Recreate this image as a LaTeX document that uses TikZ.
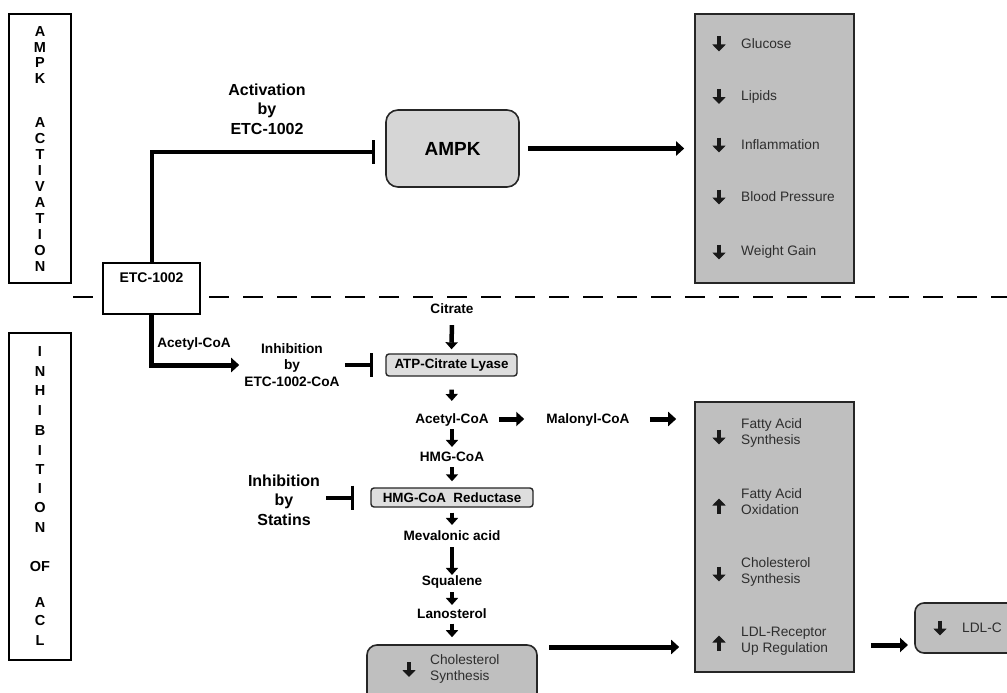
\documentclass[tikz,border=0pt]{standalone}
\usepackage{fontspec}
\setmainfont{Liberation Sans}
\usetikzlibrary{arrows.meta,calc}
\definecolor{boxgray}{HTML}{BFBFBF}
\definecolor{ampkgray}{HTML}{D6D6D6}
\definecolor{enzgray}{HTML}{DEDEDE}
\definecolor{txtgray}{HTML}{2E2E2E}
\begin{document}
\begin{tikzpicture}[x=1pt,y=-1pt,
  lbl/.style={font=\fontsize{13.6}{15}\selectfont\bfseries, inner sep=0pt, text height=9.7pt, text depth=0pt},
  biglbl/.style={font=\fontsize{16}{19.5}\selectfont\bfseries, align=center, inner sep=0pt},
  midlbl/.style={font=\fontsize{13.7}{16.5}\selectfont\bfseries, align=center, inner sep=0pt},
  vlet/.style={font=\fontsize{14.5}{15}\selectfont\bfseries, inner sep=0pt},
  item/.style={font=\fontsize{13.7}{16}\selectfont, text=txtgray, align=left, inner sep=0pt, anchor=west},
  sidebox/.style={draw=black, line width=2pt, fill=white, inner sep=0pt},
  bigbox/.style={draw=black!85, line width=1.6pt, fill=boxgray, inner sep=0pt},
  enzbox/.style={draw=black!85, line width=1.4pt, fill=enzgray, rounded corners=3pt, inner sep=0pt,
     font=\fontsize{13.4}{15}\selectfont\bfseries},
  bigarr/.style={line width=5pt, -{Triangle[width=14pt,length=8pt]}},
  patharr/.style={line width=4.5pt, -{Triangle[width=12pt,length=7pt]}},
  inhib/.style={line width=4pt, -{Bar[width=24pt,line width=3.5pt]}},
  iconarr/.style={line width=4.8pt, -{Triangle[width=13pt,length=7pt]}, black!90},
  dashln/.style={line width=1.6pt, dash pattern=on 20pt off 14pt}
]
\useasboundingbox (0,0) rectangle (1007,693);
\clip (0,0) rectangle (1007,693);
\fill[white] (0,0) rectangle (1007,693);

% ---- side boxes
\node[sidebox, minimum width=62, minimum height=269] (topside) at (40,148.5) {};
\foreach \l/\yy [count=\i] in {A/32,M/47.5,P/63,K/79,A/123,C/139,T/155,I/171,V/187,A/203,T/219,I/235,O/251,N/267}
  \node[vlet] (va\i) at (40,\yy) {\l};
\node[sidebox, minimum width=62, minimum height=327] (botside) at (40,496.5) {};
\foreach \l/\yy [count=\i] in {I/352,N/371.5,H/391,I/411,B/431,I/451,T/470,I/489,O/508,N/528,OF/567,A/603,C/621,L/641}
  \node[vlet] (vb\i) at (40,\yy) {\l};

% ---- dashed divider
\coordinate (dl) at (73,297);
\coordinate (dr) at (1010,297);
\draw[dashln] (dl) -- (dr);

% ---- ETC-1002 box
\node[sidebox, line width=1.6pt, minimum width=97, minimum height=51] (etc) at (151.5,288.5) {};
\node[lbl, font=\fontsize{14}{15}\selectfont\bfseries] (etct) at (151.5,277.5) {ETC-1002};

% ---- AMPK
\node[draw=black!85, line width=1.6pt, fill=ampkgray, rounded corners=12pt, minimum width=133, minimum height=77,
      font=\fontsize{19}{22}\selectfont\bfseries] (ampk) at (452.5,148.5) {AMPK};
\node[biglbl] (act) at (267,109) {Activation\\by\\ETC-1002};
\coordinate (corner1) at (151.5,152);
\draw[inhib, shorten >=10pt] (etc.north) -- (corner1) -- (corner1 -| ampk.west);

% ---- top result box
\node[bigbox, minimum width=159, minimum height=269] (topbox) at (774.5,148.5) {};
\draw[bigarr, shorten <=8pt, shorten >=10pt] (ampk.east) -- (ampk.east -| topbox.west);
\foreach \t/\yy [count=\i] in {Glucose/44,Lipids/96.5,Inflammation/145,Blood Pressure/197,Weight Gain/252}{
  \node[item] (ti\i) at (741,\yy) {\t};
  \draw[iconarr] (719,\yy-7.5) -- (719,\yy+7.5);
}

% ---- lower branch
\node[midlbl] (inh1) at (292,365) {Inhibition\\by\\ETC-1002-CoA};
\node[lbl] (acl) at (194,343) {Acetyl-CoA};
\draw[bigarr, shorten >=5pt] (etc.south) |- (inh1.west);

\node[lbl] (citrate) at (452,309) {Citrate};
\node[enzbox, minimum width=131, minimum height=22] (atp) at (451.5,365) {ATP-Citrate Lyase};
\draw[inhib, shorten <=5pt, shorten >=12pt] (inh1.east |- atp.west) -- (atp.west);

\node[lbl] (acetyl) at (452,419) {Acetyl-CoA};
\node[lbl] (malonyl) at (588,419) {Malonyl-CoA};
\node[lbl] (hmg) at (452,457) {HMG-CoA};
\node[enzbox, minimum width=162, minimum height=19] (red) at (452,497.5) {HMG-CoA\ \ Reductase};
\node[biglbl] (stat) at (284,500) {Inhibition\\by\\Statins};
\draw[inhib, shorten <=6pt, shorten >=16pt] (stat.east |- red.west) -- (red.west);
\node[lbl] (mev) at (452,536) {Mevalonic acid};
\node[lbl] (squ) at (452,581) {Squalene};
\node[lbl] (lano) at (452,614) {Lanosterol};

\node[draw=black!85, line width=1.6pt, fill=boxgray, rounded corners=10pt, minimum width=170, minimum height=70] (chol) at (452,680) {};
\node[item] (cholt) at (430,669) {Cholesterol\\Synthesis};
\draw[iconarr] (409,662) -- (409,677);

\draw[patharr, shorten <=11pt, shorten >=4pt] (citrate.south) -- (atp.north);
\draw[patharr, shorten <=13pt, shorten >=13pt] (atp.south) -- (acetyl.north);
\draw[patharr, shorten <=5pt, shorten >=5pt] (acetyl.south) -- (hmg.north);
\draw[patharr, shorten <=5pt, shorten >=6pt] (hmg.south) -- (red.north);
\draw[patharr, shorten <=5pt, shorten >=6pt] (red.south) -- (mev.north);
\draw[patharr, shorten <=6pt, shorten >=1pt] (mev.south) -- (squ.north);
\draw[patharr, shorten <=6pt, shorten >=4pt] (squ.south) -- (lano.north);
\draw[patharr, shorten <=4.5pt, shorten >=7pt] (lano.south) -- (chol.north);

\draw[bigarr, shorten <=10pt, shorten >=22pt] (acetyl.east) -- (malonyl.west);

% ---- bottom result box
\node[bigbox, minimum width=159, minimum height=270] (botbox) at (774.5,537) {};
\draw[bigarr, shorten <=20pt, shorten >=18pt] (malonyl.east) -- (malonyl.east -| botbox.west);
\coordinate (cholout) at (549,647);
\draw[bigarr, shorten >=15pt] (cholout) -- (cholout -| botbox.west);
\node[item] (bi1) at (741,433) {Fatty Acid\\Synthesis};
\draw[iconarr] (719,429.5) -- (719,444.5);
\node[item] (bi2) at (741,502) {Fatty Acid\\Oxidation};
\draw[iconarr] (719,513.5) -- (719,498.5);
\node[item] (bi3) at (741,571.5) {Cholesterol\\Synthesis};
\draw[iconarr] (719,566.5) -- (719,581.5);
\node[item] (bi4) at (741,641) {LDL-Receptor\\Up Regulation};
\draw[iconarr] (719,650.5) -- (719,635.5);

% ---- LDL-C
\node[draw=black!85, line width=1.6pt, fill=boxgray, rounded corners=9pt, minimum width=130, minimum height=50] (ldl) at (980,628) {};
\node[item] (ldlt) at (962,628) {LDL-C};
\draw[iconarr] (940,620.5) -- (940,635.5);
\coordinate (ldlin) at (915,645);
\draw[bigarr, shorten <=16pt, shorten >=7pt] (ldlin -| botbox.east) -- (ldlin);
\end{tikzpicture}
\end{document}
